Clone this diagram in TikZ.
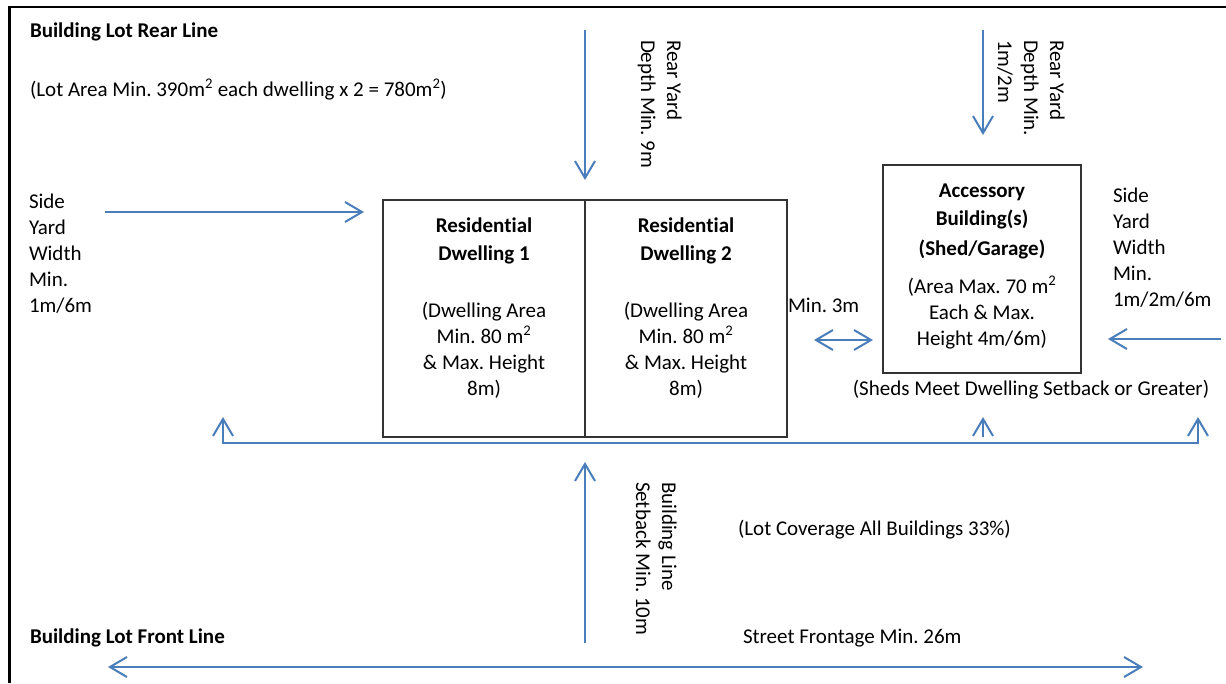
\documentclass[tikz,border=0pt]{standalone}
\usepackage{fontspec}
\setmainfont{Carlito}[Ligatures=NoCommon]
\usetikzlibrary{arrows.meta}
\definecolor{arrowblue}{HTML}{4A7EBB}
\newcommand\lns[2][l]{\begin{tabular}[t]{@{}#1@{}}#2\end{tabular}}
\frenchspacing
\begin{document}
\begin{tikzpicture}[x=1pt,y=-1pt,
  txt/.style={inner sep=0pt, outer sep=0pt, font=\fontsize{21}{26}\selectfont},
  bold/.style={txt, font=\fontsize{21}{26}\selectfont\bfseries},
  box/.style={draw=black!80, line width=1.6pt, inner sep=0pt, outer sep=0pt, anchor=north west},
  arr/.style={draw=arrowblue, line width=2pt, >={Straight Barb[length=17pt,width=20pt]}},
  frame/.style={draw=black, line width=2.3pt}]
\useasboundingbox (0,0) rectangle (1226,683);
% lot frame
\draw[frame] (1226,7) -- (9.5,7) -- (9.5,683);
% buildings
\node[box, minimum width=202pt, minimum height=237pt] (d1) at (383,200) {};
\node[box, minimum width=202pt, minimum height=237pt] (d2) at (585,200) {};
\node[box, minimum width=198pt, minimum height=208pt] (acc) at (883,165) {};
% building texts
\node[bold, anchor=base] (d1t) at (484,232) {\lns[c]{Residential\\[2pt]Dwelling 1}};
\node[txt, anchor=base] (d1b) at (484,317) {\lns[c]{(Dwelling Area\\Min. 80 m\textsuperscript{2}\\\& Max. Height\\8m)}};
\node[bold, anchor=base] (d2t) at (686,232) {\lns[c]{Residential\\[2pt]Dwelling 2}};
\node[txt, anchor=base] (d2b) at (686,317) {\lns[c]{(Dwelling Area\\Min. 80 m\textsuperscript{2}\\\& Max. Height\\8m)}};
\node[bold, anchor=base] (acct) at (982,197) {\lns[c]{Accessory\\[2pt]Building(s)\\[4pt](Shed/Garage)}};
\node[txt, anchor=base] (accb) at (982,293) {\lns[c]{(Area Max. 70 m\textsuperscript{2}\\Each \& Max.\\Height 4m/6m)}};
% labels
\node[bold, anchor=base west] (rear) at (30,37) {Building Lot Rear Line};
\node[txt, anchor=base west] (area) at (30,96) {(Lot Area Min. 390m\textsuperscript{2} each dwelling x 2 = 780m\textsuperscript{2})};
\node[txt, anchor=base west] (sideL) at (29,208) {\lns{Side\\Yard\\Width\\Min.\\1m/6m}};
\node[txt, anchor=base west] (sideR) at (1113,202) {\lns{Side\\Yard\\Width\\Min.\\1m/2m/6m}};
\node[txt, anchor=base west] (min3) at (788,312) {Min. 3m};
\node[txt, anchor=base] (sheds) at (1031,395) {(Sheds Meet Dwelling Setback or Greater)};
\node[txt, anchor=base west] (cover) at (738,535) {(Lot Coverage All Buildings 33\%)};
\node[txt, anchor=base west] (street) at (743,643) {Street Frontage Min. 26m};
\node[bold, anchor=base west] (front) at (30,643) {Building Lot Front Line};
\node[txt, rotate=-90, anchor=base west] (ry1) at (667,40) {\lns{Rear Yard\\Depth Min. 9m}};
\node[txt, rotate=-90, anchor=base west] (ry2) at (1050,40) {\lns{Rear Yard\\Depth Min.\\1m/2m}};
\node[txt, rotate=-90, anchor=base west] (setb) at (662,482) {\lns{Building Line\\Setback Min. 10m}};
% arrow end points
\coordinate (a1s) at (585,30);  \coordinate (a1e) at (585,180);
\coordinate (a2s) at (983,30);  \coordinate (a2e) at (983,135);
\coordinate (a3s) at (105,212); \coordinate (a3e) at (364,212);
\coordinate (a4s) at (1221,339); \coordinate (a4e) at (1108,339);
\coordinate (a5s) at (814,340); \coordinate (a5e) at (873,340);
\coordinate (b1) at (223,417); \coordinate (b2) at (223,443);
\coordinate (b3) at (1198,443); \coordinate (b4) at (1198,417);
\coordinate (b5s) at (983,437); \coordinate (b5e) at (983,417);
\coordinate (a6s) at (585,643); \coordinate (a6e) at (585,462);
\coordinate (a7s) at (108,667); \coordinate (a7e) at (1143,667);
% arrows
\draw[arr,->] (a1s) -- (a1e);
\draw[arr,->] (a2s) -- (a2e);
\draw[arr,->] (a3s) -- (a3e);
\draw[arr,->] (a4s) -- (a4e);
\draw[arr,<->] (a5s) -- (a5e);
\draw[arr,<->] (b1) -- (b2) -- (b3) -- (b4);
\draw[arr,->] (b5s) -- (b5e);
\draw[arr,->] (a6s) -- (a6e);
\draw[arr,<->] (a7s) -- (a7e);
\end{tikzpicture}
\end{document}
